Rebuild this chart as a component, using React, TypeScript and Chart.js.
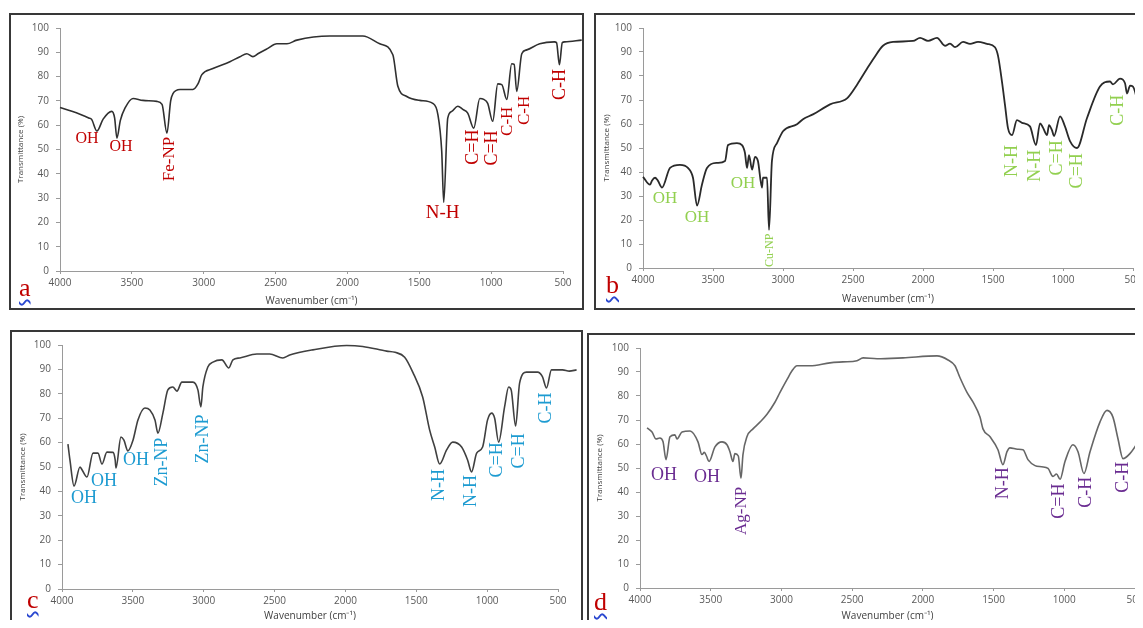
import React, { useEffect, useRef } from "react";
import { Chart, registerables } from "chart.js";
Chart.register(...registerables);

// ---------- data ----------
const xTickValues = [4000, 3500, 3000, 2500, 2000, 1500, 1000, 500];
const yTickValues = [0, 10, 20, 30, 40, 50, 60, 70, 80, 90, 100];
const xAxisTitle = "Wavenumber (cm\u207B\u00B9)";
const yAxisTitle = "Transmittance (%)";

const waveA = [4000, 3917, 3861, 3800, 3780, 3743, 3700, 3640, 3620, 3604, 3580, 3548, 3492, 3423, 3326, 3290, 3256, 3230, 3214, 3165, 3075, 3040, 3013, 2936, 2818, 2748, 2700, 2658, 2620, 2560, 2491, 2421, 2352, 2122, 1893, 1775, 1684, 1649, 1587, 1497, 1406, 1371, 1344, 1330, 1302, 1274, 1232, 1197, 1163, 1121, 1079, 1051, 1024, 989, 954, 926, 891, 857, 840, 822, 787, 752, 662, 560, 545, 525, 505, 488, 370];
const transA = [67.3, 65.7, 64.5, 63.0, 62.4, 57.6, 62.5, 65.7, 63.0, 54.7, 62.0, 67.0, 71.0, 70.2, 69.8, 68.6, 56.7, 70.0, 73.0, 74.7, 74.7, 77.0, 80.8, 83.3, 86.1, 88.2, 89.4, 88.2, 89.5, 91.4, 93.5, 93.5, 95.0, 96.7, 96.7, 93.5, 89.0, 76.0, 71.8, 70.2, 69.0, 64.5, 49.4, 28.2, 62.9, 65.7, 67.8, 66.5, 65.0, 58.8, 71.0, 70.6, 69.0, 61.6, 77.0, 76.7, 70.6, 85.3, 85.0, 73.9, 89.4, 91.0, 93.5, 94.3, 94.0, 84.9, 94.0, 94.3, 95.0];

const waveB = [4000, 3950, 3935, 3914, 3895, 3864, 3807, 3736, 3679, 3643, 3614, 3579, 3543, 3471, 3414, 3393, 3329, 3293, 3272, 3257, 3243, 3221, 3200, 3179, 3150, 3143, 3114, 3100, 3079, 3043, 3000, 2900, 2857, 2786, 2664, 2543, 2471, 2400, 2350, 2286, 2214, 2071, 2021, 1964, 1900, 1843, 1807, 1771, 1714, 1664, 1607, 1543, 1486, 1464, 1436, 1414, 1393, 1364, 1329, 1293, 1236, 1193, 1164, 1143, 1114, 1100, 1079, 1064, 1021, 986, 950, 900, 829, 736, 664, 643, 593, 557, 543, 521, 500, 450];
const transB = [38.0, 34.7, 36.5, 37.6, 36.5, 33.5, 41.7, 43.0, 41.7, 37.6, 26.0, 34.7, 41.7, 43.8, 44.6, 51.2, 52.0, 51.2, 48.0, 41.7, 47.0, 41.0, 46.3, 44.6, 33.5, 37.6, 37.6, 15.9, 44.6, 52.0, 57.0, 59.9, 62.0, 64.0, 68.2, 70.7, 76.4, 83.0, 87.5, 92.6, 94.2, 94.6, 95.9, 94.6, 95.9, 92.6, 93.5, 92.0, 94.2, 93.4, 94.2, 93.4, 92.0, 88.4, 77.7, 67.8, 58.3, 55.4, 61.6, 60.5, 59.0, 51.2, 60.3, 58.5, 55.4, 59.5, 57.4, 55.0, 63.2, 59.0, 52.9, 50.0, 62.4, 75.6, 77.7, 76.5, 78.9, 77.0, 72.7, 76.0, 75.6, 64.5];

const waveC = [3958, 3944, 3915, 3873, 3860, 3824, 3781, 3746, 3718, 3683, 3640, 3625, 3619, 3584, 3563, 3535, 3499, 3464, 3415, 3380, 3344, 3323, 3288, 3253, 3218, 3189, 3154, 3076, 3041, 3020, 3006, 2971, 2935, 2872, 2823, 2794, 2745, 2625, 2534, 2442, 2393, 2230, 1991, 1878, 1709, 1650, 1582, 1525, 1455, 1406, 1370, 1335, 1286, 1243, 1180, 1138, 1110, 1074, 1032, 997, 968, 947, 919, 877, 848, 830, 799, 771, 722, 644, 610, 581, 546, 468, 420, 369];
const transC = [59.4, 52.9, 42.2, 50.0, 49.0, 45.9, 55.7, 55.7, 51.2, 56.1, 56.0, 53.0, 49.6, 62.3, 61.0, 56.6, 61.0, 69.3, 74.2, 73.4, 69.3, 63.9, 72.1, 81.6, 82.8, 81.1, 84.8, 84.8, 81.6, 74.6, 82.8, 91.0, 93.0, 93.9, 90.6, 93.9, 94.7, 96.3, 96.3, 94.7, 95.9, 98.0, 99.8, 99.4, 97.5, 97.0, 95.0, 88.9, 78.7, 65.2, 58.2, 51.2, 57.0, 60.2, 58.2, 52.9, 48.0, 55.7, 58.2, 69.3, 72.1, 70.0, 60.2, 74.6, 82.8, 81.5, 66.8, 84.4, 88.9, 88.9, 87.0, 82.4, 89.8, 89.8, 89.3, 89.8];

const waveD = [3950, 3915, 3887, 3860, 3837, 3816, 3788, 3753, 3738, 3703, 3646, 3590, 3562, 3545, 3530, 3512, 3470, 3420, 3385, 3364, 3343, 3329, 3305, 3286, 3272, 3244, 3201, 3152, 3102, 3046, 3010, 2961, 2925, 2890, 2798, 2657, 2565, 2466, 2423, 2324, 2140, 1900, 1822, 1773, 1738, 1688, 1645, 1596, 1575, 1525, 1469, 1434, 1405, 1384, 1330, 1292, 1257, 1207, 1160, 1115, 1080, 1055, 1030, 995, 939, 903, 861, 818, 748, 698, 656, 620, 585, 536, 479, 444];
const transD = [66.7, 65.0, 62.1, 62.5, 60.9, 53.5, 63.0, 63.8, 62.1, 65.0, 65.4, 60.9, 55.6, 56.5, 55.0, 52.7, 58.8, 60.9, 59.7, 56.8, 52.7, 56.0, 55.0, 45.7, 55.6, 63.0, 66.3, 69.1, 72.4, 77.4, 81.5, 86.8, 90.5, 92.6, 92.6, 93.8, 94.2, 94.7, 95.9, 95.5, 95.9, 96.7, 95.0, 92.6, 87.7, 81.5, 77.4, 71.2, 66.3, 63.0, 57.6, 51.4, 56.8, 58.4, 57.8, 57.6, 53.5, 51.0, 50.5, 49.8, 46.5, 47.5, 45.3, 52.7, 59.7, 56.8, 47.7, 56.8, 69.1, 74.0, 71.2, 62.1, 53.9, 56.0, 60.9, 65.0];

// peak labels: [text, wavenumber, transmittance]
const peaksA: [string, number, number][] = [["OH", 3812, 54.3], ["OH", 3576, 51], ["Fe-NP", 3235, 46.1], ["N-H", 1337, 23.7], ["C=H", 1121, 51], ["C=H", 989, 50.6], ["C-H", 885, 61.6], ["C-H", 766, 66.1], ["C-H", 516, 76.7]];
const peaksB: [string, number, number][] = [["OH", 3843, 28.9], ["OH", 3614, 21], ["OH", 3286, 35], ["Cu-NP", 3093, 7.4], ["N-H", 1364, 44.6], ["N-H", 1200, 42.6], ["C=H", 1043, 45.9], ["C=H", 900, 40.5], ["C-H", 607, 65.7]];
const peaksC: [string, number, number][] = [["OH", 3845, 37.3], ["OH", 3704, 44.3], ["OH", 3478, 52.9], ["Zn-NP", 3295, 52], ["Zn-NP", 3006, 61.5], ["N-H", 1335, 42.6], ["N-H", 1109, 40.2], ["C=H", 926, 52.9], ["C=H", 771, 56.6], ["C-H", 581, 74.2]];
const peaksD: [string, number, number][] = [["OH", 3830, 46.9], ["OH", 3526, 46.1], ["Ag-NP", 3279, 32.1], ["N-H", 1434, 43.6], ["C=H", 1038, 36.2], ["C-H", 847, 39.9], ["C-H", 585, 46.1]];

// ---------- styles / layout ----------
const vertA = [0, 0, 1, 0, 1, 1, 1, 1, 1];
const vertB = [0, 0, 0, 1, 1, 1, 1, 1, 1];
const vertC = [0, 0, 0, 1, 1, 1, 1, 1, 1, 1];
const vertD = [0, 0, 1, 1, 1, 1, 1];
const sizesA = [16, 16, 17, 19, 18, 18, 17, 17, 18];
const sizesB = [17, 17, 17, 12, 18, 18, 18, 18, 18];
const sizesC = [18, 18, 18, 18, 18, 18, 18, 18, 18, 18];
const sizesD = [18, 18, 17, 18, 18, 18, 18];

const BW = 2;
const SERIF = '"Liberation Serif", "Times New Roman", serif';
const SANS = '"Open Sans", "Liberation Sans", sans-serif';

type PanelCfg = {
  box: number[]; plot: number[]; xTitleY: number; yTitleX: number;
  wave: number[]; trans: number[]; peaks: [string, number, number][];
  vert: number[]; sizes: number[]; color: string; lineColor: string; lineWidth: number;
  letter: string; letterPos: number[];
};

const panels: PanelCfg[] = [
  { box: [9, 13, 584, 310], plot: [60, 563, 26, 271], xTitleY: 301, yTitleX: 21, wave: waveA, trans: transA, peaks: peaksA, vert: vertA, sizes: sizesA, color: "#c00000", lineColor: "#303030", lineWidth: 1.6, letter: "a", letterPos: [19, 275] },
  { box: [594, 13, 1160, 310], plot: [643, 1133, 26, 268], xTitleY: 299, yTitleX: 607, wave: waveB, trans: transB, peaks: peaksB, vert: vertB, sizes: sizesB, color: "#92d050", lineColor: "#2a2a2a", lineWidth: 1.8, letter: "b", letterPos: [606, 272] },
  { box: [10, 330, 583, 650], plot: [62, 558, 345, 589], xTitleY: 616, yTitleX: 23, wave: waveC, trans: transC, peaks: peaksC, vert: vertC, sizes: sizesC, color: "#1d9bd1", lineColor: "#404040", lineWidth: 1.6, letter: "c", letterPos: [27, 587] },
  { box: [587, 333, 1160, 650], plot: [640, 1135, 345, 588], xTitleY: 616, yTitleX: 600, wave: waveD, trans: transD, peaks: peaksD, vert: vertD, sizes: sizesD, color: "#6a2c91", lineColor: "#666666", lineWidth: 1.6, letter: "d", letterPos: [594, 589] },
];

function PanelChart({ p }: { p: PanelCfg }) {
  const ref = useRef<HTMLCanvasElement>(null);
  const innerL = p.box[0] + BW;
  const innerT = p.box[1] + BW;
  const innerW = p.box[2] - p.box[0] - 2 * BW;
  const innerH = p.box[3] - p.box[1] - 2 * BW;

  useEffect(() => {
    const canvas = ref.current;
    if (!canvas) return;
    const yAxisW = p.plot[0] - innerL;
    const padTop = p.plot[2] - innerT;
    const padRight = innerL + innerW - p.plot[1];
    const xTitleFont = 10;
    const xAxisH = p.xTitleY + xTitleFont * 0.6 - p.plot[3];
    const padBottom = innerT + innerH - (p.xTitleY + xTitleFont * 0.6);
    const yTitleFont = 8;
    const yTitlePad = p.yTitleX - innerL - yTitleFont * 0.6;

    const labelPlugin = {
      id: "peakLabels" + p.letter,
      afterDatasetsDraw(chart: any) {
        const { ctx, scales } = chart;
        ctx.save();
        ctx.fillStyle = p.color;
        ctx.textAlign = "center";
        ctx.textBaseline = "middle";
        p.peaks.forEach((pk, i) => {
          const x = scales.x.getPixelForValue(pk[1]);
          const y = scales.y.getPixelForValue(pk[2]);
          ctx.save();
          ctx.translate(x, y);
          if (p.vert[i]) ctx.rotate(-Math.PI / 2);
          ctx.font = `${p.sizes[i]}px ${SERIF}`;
          ctx.fillText(pk[0], 0, 0);
          ctx.restore();
        });
        ctx.restore();
      },
    };

    const axisColor = "#9a9a9a";
    const chart = new Chart(canvas, {
      type: "line",
      data: {
        datasets: [
          {
            data: p.wave.map((w, i) => ({ x: w, y: p.trans[i] })),
            borderColor: p.lineColor,
            borderWidth: p.lineWidth,
            pointRadius: 0,
            fill: false,
            cubicInterpolationMode: "monotone",
            clip: false as any,
          },
        ],
      },
      options: {
        responsive: false,
        animation: false,
        events: [],
        layout: { padding: { left: 0, top: padTop, right: padRight, bottom: padBottom } },
        plugins: { legend: { display: false }, tooltip: { enabled: false }, title: { display: false } },
        scales: {
          x: {
            type: "linear",
            reverse: true,
            min: 500,
            max: 4000,
            afterBuildTicks: (s: any) => { s.ticks = xTickValues.map((v) => ({ value: v })); },
            afterFit: (s: any) => { s.height = xAxisH; },
            ticks: {
              autoSkip: false, maxRotation: 0, padding: 3,
              color: "#595959", font: { family: SANS, size: 10 },
              callback: (v: any) => String(v),
            },
            grid: { display: true, drawOnChartArea: false, drawTicks: true, tickLength: 3, color: axisColor },
            border: { display: true, color: axisColor, width: 1 },
            title: { display: true, text: xAxisTitle, color: "#404040", font: { family: SANS, size: xTitleFont }, padding: { top: 0, bottom: 0 } },
          },
          y: {
            type: "linear",
            min: 0,
            max: 100,
            afterBuildTicks: (s: any) => { s.ticks = yTickValues.map((v) => ({ value: v })); },
            afterFit: (s: any) => { s.width = yAxisW; },
            ticks: {
              autoSkip: false, padding: 7,
              color: "#595959", font: { family: SANS, size: 10 },
              callback: (v: any) => String(v),
            },
            grid: { display: true, drawOnChartArea: false, drawTicks: true, tickLength: 4, color: axisColor },
            border: { display: true, color: axisColor, width: 1 },
            title: { display: true, text: yAxisTitle, color: "#404040", font: { family: SANS, size: yTitleFont }, padding: { top: yTitlePad, bottom: 0 } },
          },
        },
      } as any,
      plugins: [labelPlugin],
    });
    return () => chart.destroy();
  }, []);

  return (
    <div
      style={{
        position: "absolute",
        left: p.box[0],
        top: p.box[1],
        width: p.box[2] - p.box[0] - 2 * BW,
        height: p.box[3] - p.box[1] - 2 * BW,
        border: `${BW}px solid #383838`,
        background: "#ffffff",
      }}
    >
      <canvas ref={ref} width={innerW} height={innerH} style={{ display: "block", width: innerW, height: innerH }} />
    </div>
  );
}

export default function App() {
  return (
    <div style={{ position: "relative", width: 1143, height: 628, overflow: "hidden", background: "#ffffff", margin: -8 }}>
      {panels.map((p) => (
        <PanelChart key={p.letter} p={p} />
      ))}
      {panels.map((p) => (
        <div
          key={"l" + p.letter}
          style={{
            position: "absolute",
            left: p.letterPos[0],
            top: p.letterPos[1],
            fontFamily: SERIF,
            fontSize: 26,
            lineHeight: "26px",
            color: "#c00000",
            textDecorationLine: "underline",
            textDecorationStyle: "wavy",
            textDecorationColor: "#2a48d0",
            textDecorationThickness: "1.5px",
            textUnderlineOffset: "3px",
          }}
        >
          {p.letter}
        </div>
      ))}
    </div>
  );
}
